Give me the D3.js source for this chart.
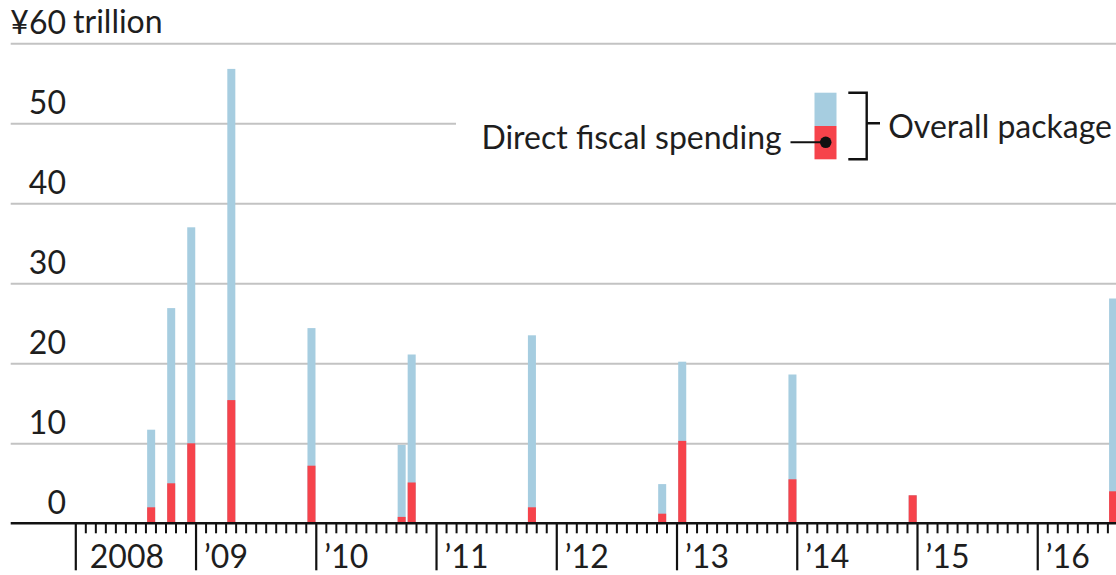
<!DOCTYPE html>
<html>
<head>
<meta charset="utf-8">
<script src="https://cdn.jsdelivr.net/npm/d3@7"></script>
<style>
  html, body { margin: 0; padding: 0; background: #fff; }
  svg { display: block; }
  text { font-family: Lato, "Open Sans", sans-serif; fill: #1e1e1e; }
</style>
</head>
<body>
<svg id="chart" width="1116" height="575"></svg>
<script>
// Japan's economic stimulus packages, trillions of yen
const packageMonths = ["2008-08", "2008-10", "2008-12", "2009-04", "2009-12", "2010-09", "2010-10",
                       "2011-10", "2012-11", "2013-01", "2013-12", "2014-12", "2016-08"];
const overallPackage = [11.7, 26.9, 37.0, 56.8, 24.4, 9.8, 21.1, 23.5, 4.9, 20.2, 18.6, 3.5, 28.1];
const directSpending = [2.0, 5.0, 10.0, 15.4, 7.2, 0.8, 5.1, 2.0, 1.2, 10.3, 5.5, 3.5, 4.0];
const yTickValues = [0, 10, 20, 30, 40, 50, 60];
const yearLabels = ["2008", "\u201909", "\u201910", "\u201911", "\u201912", "\u201913", "\u201914", "\u201915", "\u201916"];

const W = 1116, H = 575;
const firstYear = 2008;
const monthCount = 104;
const blue = "#a6cde0", red = "#f6434b", grid = "#c3c3c3";
const fontSize = 32;

const svg = d3.select("#chart");

// month index counted from January 2008
const monthIndex = s => { const [y, m] = s.split("-").map(Number); return (y - firstYear) * 12 + (m - 1); };

const x = d3.scaleLinear().domain([0, monthCount]).range([75.3, 1117.4]);
const y = d3.scaleLinear().domain([0, 60]).range([523.3, 43.3]);
const step = x(1) - x(0);

// horizontal gridlines with labels sitting above each line
const gridLeft = 10.7;
const yAxis = svg.append("g")
  .attr("transform", `translate(${gridLeft},0)`)
  .call(d3.axisRight(y).tickValues(yTickValues).tickSize(W - gridLeft)
    .tickFormat(d => d === 60 ? "\u00a560" : d));
yAxis.select(".domain").remove();
yAxis.selectAll(".tick line")
  .attr("stroke", grid).attr("stroke-width", 2)
  .attr("x2", d => d === 50 ? 456 - gridLeft : W - gridLeft)
  .attr("display", d => d === 0 ? "none" : null);
yAxis.selectAll(".tick text")
  .attr("x", 66 - gridLeft).attr("dy", -10)
  .attr("text-anchor", "end")
  .style("font-size", fontSize + "px").style("font-family", null).attr("fill", "#1e1e1e");

// unit after the top label
svg.append("text")
  .attr("x", 66 + fontSize * 0.22).attr("y", y(60) - 10)
  .style("font-size", fontSize + "px")
  .text("trillion");

// bars: overall package behind, direct fiscal spending in front
const data = packageMonths.map((m, i) => ({ m: monthIndex(m), total: overallPackage[i], direct: directSpending[i] }));
const barW = step * 0.8;
const barOff = step * 0.17;

svg.append("g").selectAll("rect").data(data).join("rect")
  .attr("x", d => x(d.m) + barOff).attr("width", barW)
  .attr("y", d => y(d.total)).attr("height", d => y(0) - y(d.total))
  .attr("fill", blue);
svg.append("g").selectAll("rect").data(data).join("rect")
  .attr("x", d => x(d.m) + barOff).attr("width", barW)
  .attr("y", d => y(d.direct)).attr("height", d => y(0) - y(d.direct))
  .attr("fill", red);

// monthly ticks
const minorMonths = d3.range(1, monthCount + 1).filter(i => i % 12 !== 0);
const minor = svg.append("g")
  .attr("transform", `translate(0,${y(0)})`)
  .call(d3.axisBottom(x).tickValues(minorMonths).tickSize(10).tickFormat(""));
minor.select(".domain").remove();
minor.selectAll(".tick line").attr("stroke", "#111").attr("stroke-width", 2);

// yearly ticks with labels
const yearMonths = yearLabels.map((_, i) => i * 12);
const major = svg.append("g")
  .attr("transform", `translate(0,${y(0)})`)
  .call(d3.axisBottom(x).tickValues(yearMonths).tickSize(47).tickFormat((d, i) => yearLabels[i]));
major.select(".domain").remove();
major.selectAll(".tick line").attr("stroke", "#111").attr("stroke-width", 2.2);
major.selectAll(".tick text")
  .attr("text-anchor", "start")
  .attr("x", (d, i) => i === 0 ? 14 : 8)
  .attr("y", 45).attr("dy", 0)
  .style("font-size", fontSize + "px").style("font-family", null).attr("fill", "#1e1e1e");

// baseline
svg.append("line")
  .attr("x1", gridLeft).attr("x2", W)
  .attr("y1", y(0)).attr("y2", y(0))
  .attr("stroke", "#111").attr("stroke-width", 2.6);

// legend
const lg = svg.append("g");
const swX = 814.5, swW = 22, swTop = 92.7, swMid = 126, swBot = 159.3;
lg.append("rect").attr("x", swX).attr("y", swTop).attr("width", swW).attr("height", swMid - swTop).attr("fill", blue);
lg.append("rect").attr("x", swX).attr("y", swMid).attr("width", swW).attr("height", swBot - swMid).attr("fill", red);
lg.append("line").attr("x1", 790.5).attr("x2", 826).attr("y1", 142.3).attr("y2", 142.3)
  .attr("stroke", "#111").attr("stroke-width", 2);
lg.append("circle").attr("cx", 825.7).attr("cy", 142.3).attr("r", 5.8).attr("fill", "#111");
lg.append("path")
  .attr("d", `M848.3,${swTop}H866.7V${swBot}H848.3M866.7,123.3H880`)
  .attr("fill", "none").attr("stroke", "#111").attr("stroke-width", 2.4);
lg.append("text").attr("x", 781.7).attr("y", 148.5).attr("text-anchor", "end")
  .style("font-size", fontSize + "px").text("Direct fiscal spending");
lg.append("text").attr("x", 888.3).attr("y", 137.5).attr("text-anchor", "start")
  .style("font-size", fontSize + "px").text("Overall package");
</script>
</body>
</html>
